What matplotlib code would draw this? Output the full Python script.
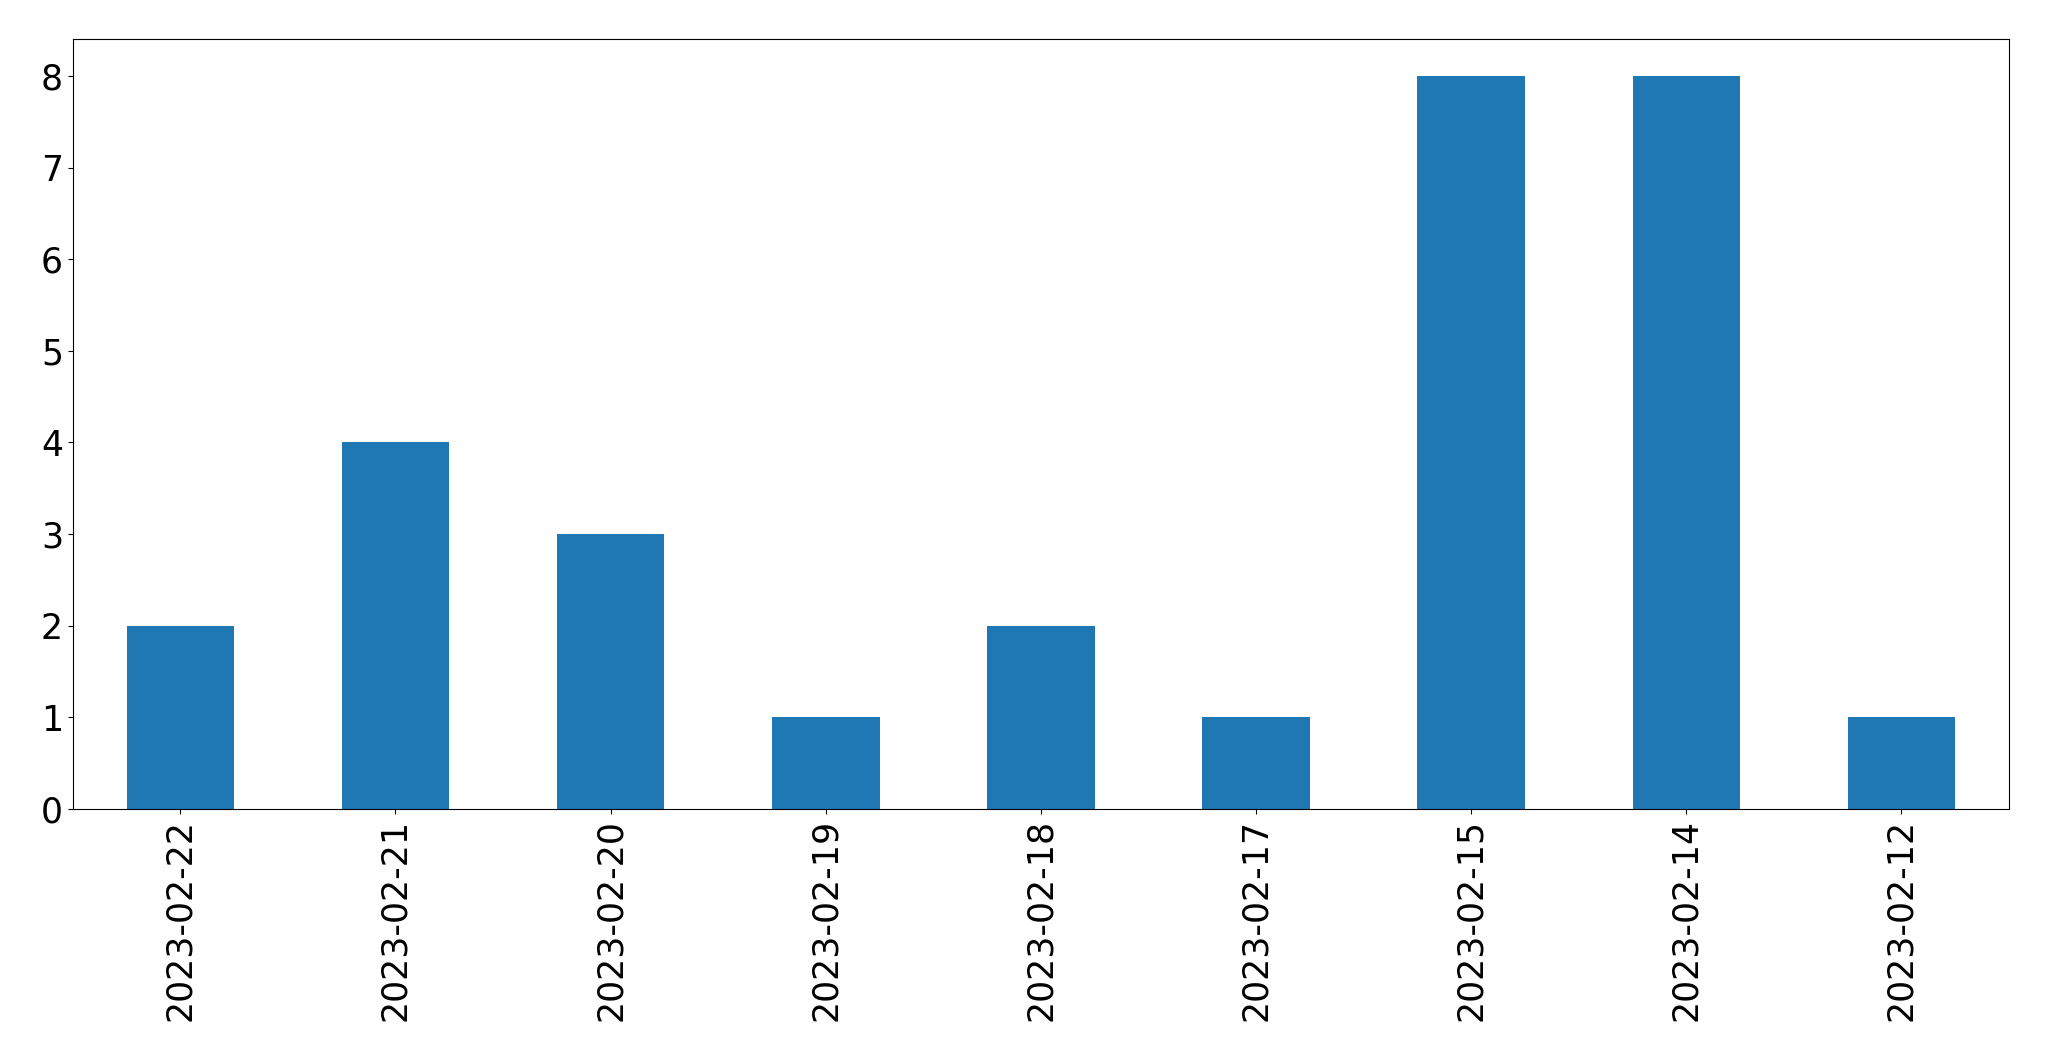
import matplotlib
matplotlib.use("Agg")
import matplotlib.pyplot as plt

dates = ["2023-02-22", "2023-02-21", "2023-02-20", "2023-02-19", "2023-02-18",
         "2023-02-17", "2023-02-15", "2023-02-14", "2023-02-12"]
counts = [2, 4, 3, 1, 2, 1, 8, 8, 1]

fig, ax = plt.subplots(figsize=(20.49, 10.61), dpi=100)
fig.subplots_adjust(left=0.0355, right=0.9805, top=0.963, bottom=0.2375)
x = list(range(len(dates)))
ax.bar(x, counts, width=0.5, color="#1f77b4")
ax.set_xlim(-0.5, len(dates) - 0.5)
ax.set_ylim(0, 8.4)
ax.set_xticks(x)
ax.set_xticklabels(dates, rotation=90)
ax.tick_params(axis="both", labelsize=25)
fig.savefig("out.png", dpi=100)
